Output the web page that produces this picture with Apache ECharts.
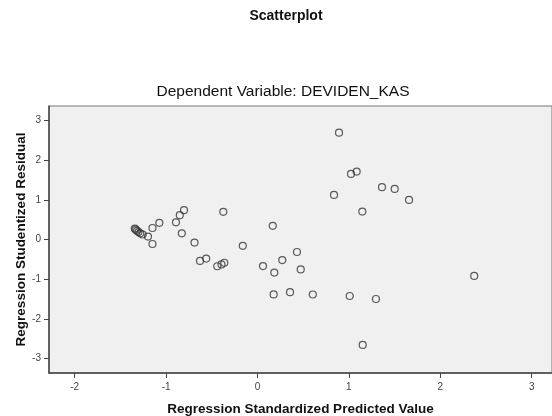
<!DOCTYPE html>
<html>
<head>
<meta charset="utf-8">
<script src="https://cdn.jsdelivr.net/npm/echarts@6/dist/echarts.min.js"></script>
<style>html,body{margin:0;padding:0;background:#fff}#c{width:552px;height:416px}</style>
</head>
<body>
<div id="c"></div>
<script>
var predicted = [-1.342,-1.332,-1.318,-1.302,-1.282,-1.256,-1.198,-1.149,-1.074,-1.149,-0.892,-0.850,-0.804,-0.828,-0.689,-0.374,-0.161,-0.629,-0.561,-0.440,-0.394,-0.363,0.060,0.167,0.184,0.271,0.432,0.473,0.177,0.356,0.605,1.009,1.296,1.151,2.371,0.892,1.023,1.085,0.837,1.362,1.501,1.658,1.147];
var residual = [0.276,0.248,0.219,0.188,0.156,0.126,0.073,0.289,0.420,-0.113,0.432,0.613,0.739,0.156,-0.078,0.696,-0.158,-0.540,-0.480,-0.673,-0.628,-0.585,-0.668,0.344,-0.832,-0.518,-0.314,-0.754,-1.382,-1.327,-1.384,-1.422,-1.497,-2.653,-0.917,2.688,1.651,1.709,1.123,1.317,1.274,0.997,0.704];
var xTicks = [-2,-1,0,1,2,3];
var yTicks = [-3,-2,-1,0,1,2,3];

var points = predicted.map(function(v,i){return [v, residual[i]];});
var chart = echarts.init(document.getElementById('c'));
var labelFont = {fontFamily:'Liberation Sans', fontSize:10, color:'#444'};
chart.setOption({
  animation:false,
  backgroundColor:'#ffffff',
  title:[
    {text:'Scatterplot', left:281, top:4, textAlign:'center',
     textStyle:{fontFamily:'Liberation Sans', fontSize:14, fontWeight:'bold', color:'#111'}},
    {text:'Dependent Variable: DEVIDEN_KAS', left:278, top:79, textAlign:'center',
     textStyle:{fontFamily:'Liberation Sans', fontSize:15.5, fontWeight:'normal', color:'#111'}}
  ],
  grid:{left:49, top:106, right:0, bottom:43, outerBoundsMode:'none', containLabel:false,
        show:true, backgroundColor:'#f0f0f0', borderColor:'#777', borderWidth:1},
  xAxis:{
    type:'value', min:-2.281, max:3.222,
    name:'Regression Standardized Predicted Value', nameLocation:'middle', nameGap:29, nameMoveOverlap:false,
    nameTextStyle:{fontFamily:'Liberation Sans', fontSize:13.5, fontWeight:'bold', color:'#111'},
    axisLine:{show:true, onZero:false, lineStyle:{color:'#444', width:1.5}},
    axisTick:{show:true, length:5, customValues:xTicks, lineStyle:{color:'#444'}},
    axisLabel:Object.assign({customValues:xTicks, margin:9}, labelFont),
    splitLine:{show:false}
  },
  yAxis:{
    type:'value', min:-3.36, max:3.36,
    name:'Regression Studentized Residual', nameLocation:'middle', nameGap:21, nameMoveOverlap:false,
    nameTextStyle:{fontFamily:'Liberation Sans', fontSize:13.5, fontWeight:'bold', color:'#111'},
    axisLine:{show:true, onZero:false, lineStyle:{color:'#444', width:1.5}},
    axisTick:{show:true, length:5, customValues:yTicks, lineStyle:{color:'#444'}},
    axisLabel:Object.assign({customValues:yTicks, margin:8}, labelFont),
    splitLine:{show:false}
  },
  series:[{
    type:'scatter', data:points, symbol:'circle', symbolSize:7,
    itemStyle:{color:'rgba(0,0,0,0)', borderColor:'#333', borderWidth:1.2}
  }]
});
</script>
</body>
</html>
